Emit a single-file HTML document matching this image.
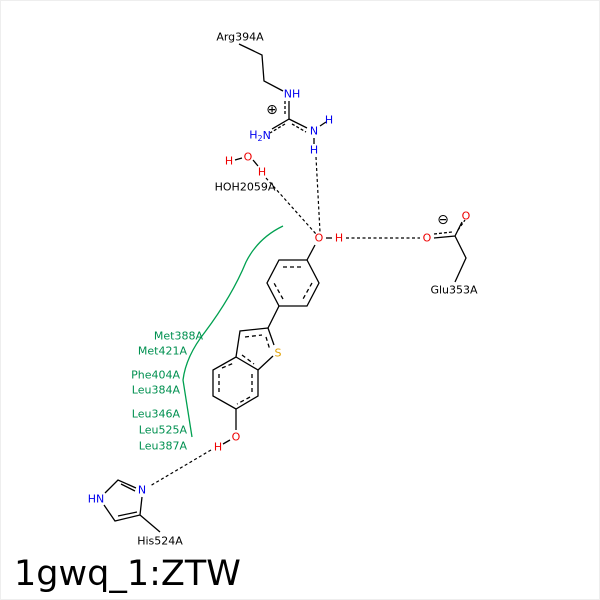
<!DOCTYPE html>
<html><head><style>body{margin:0;background:#fff}svg{display:block}text{font-family:"DejaVu Sans","Liberation Sans",sans-serif}</style></head><body>
<svg width="600" height="600" viewBox="0 0 600 600">
<rect x="0.5" y="0.5" width="599" height="599" fill="#fff" stroke="#eee"/>
<g font-size="11" text-anchor="middle" dominant-baseline="central">
<path d="M283,226 Q258,238 246,262 Q232,296 205,332 Q186,356 183,380 L192,437" fill="none" stroke="#00a050" stroke-width="1.3"/>
<g fill="#009050" text-anchor="end">
<text x="203" y="336">Met388A</text><text x="187" y="351">Met421A</text>
<text x="180" y="375">Phe404A</text><text x="180" y="390">Leu384A</text>
<text x="180" y="414">Leu346A</text><text x="187" y="430">Leu525A</text><text x="187" y="446">Leu387A</text>
</g>
<g stroke="#000" stroke-width="1.3" fill="none">
<path d="M279,260 L307,260 L319,283 L307,306 L279,306 L267,283 Z"/>
<path d="M283,267 L303,267 M312,283 L303,299 M283,299 L274,283" stroke-dasharray="4,3"/>
<path d="M307,260 L315,245"/>
<path d="M279,306 L268,328"/>
<path d="M268,328 L240,331 L236,357 M258,370 L273,356 M268,328 L274,345"/>
<path d="M245,337 L262,335 M266,337 L270,350 M242,355 L254,364" stroke-dasharray="4,3"/>
<path d="M236,357 L258,370 L258,396 L236,409 L213,396 L213,370 Z"/>
<path d="M252,374 L252,392 M250,397 L237,404 M219,392 L219,374 M222,368 L234,363" stroke-dasharray="4,3"/>
<path d="M236,409 L236,430 M223,444 L230,440"/>
<path d="M136,488 L118,480 L105,493 M104,505 L115,521 L140,515 L142,497 M140,515 L160,532"/>
<path d="M121,484 L135,491 M118,516 L137,512"/>
<path d="M239,44 L262,55 L264,81 L283,91 M289,101 L289,119 L272,129 M289,119 L307,128 M320,126 L326,122 M314,138 L314,144"/>
<path d="M285,101 L285,116 M285,124 L270,133 M292,124 L306,132" stroke-dasharray="3,2"/>
<path d="M235,160 L242,158 M253,160 L258,166"/>
<path d="M326,238 L332,238"/>
<path d="M434,238 L455,236 L462,222 M455,236 L466,258 L455,282"/>
<path d="M434,234 L452,232 M458,230 L465,220" stroke-dasharray="3,2"/>
</g>
<g stroke="#000" stroke-width="1.2" stroke-dasharray="3,2.5" fill="none">
<path d="M266,178 L316,234 M316,157 L320,232 M346,238 L420,238 M211,450 L150,486"/>
</g>
<g fill="#0000ee">
<text x="292" y="94">NH</text><text x="260" y="135">H<tspan font-size="8" dy="3">2</tspan><tspan dy="-3">N</tspan></text>
<text x="314" y="131">N</text><text x="329" y="120">H</text><text x="314" y="150">H</text>
<text x="142" y="490">N</text><text x="96" y="499">HN</text>
</g>
<g fill="#ee0000">
<text x="229" y="161">H</text><text x="248" y="157">O</text><text x="262" y="172">H</text>
<text x="319" y="238">O</text><text x="339" y="238">H</text><text x="427" y="238">O</text><text x="466" y="216">O</text>
<text x="236" y="437">O</text><text x="218" y="447">H</text>
</g>
<text x="278" y="353" fill="#e0a000">S</text>
<g fill="#000">
<text x="240" y="37">Arg394A</text><text x="245" y="187">HOH2059A</text><text x="454" y="290">Glu353A</text><text x="160" y="541">His524A</text>
<text x="272" y="110" font-size="14">⊕</text><text x="443" y="220" font-size="14">⊖</text>
</g>
</g>
<text x="14" y="585" font-size="35">1gwq_1:ZTW</text>
</svg>
</body></html>
